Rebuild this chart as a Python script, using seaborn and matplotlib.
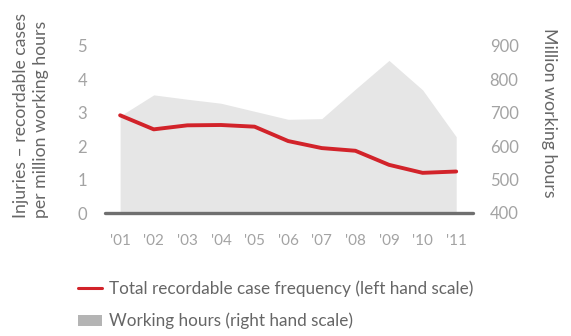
import matplotlib
matplotlib.use("Agg")
import matplotlib.pyplot as plt
import seaborn as sns
import pandas as pd
from matplotlib.lines import Line2D
from matplotlib.patches import Patch

# values
years = [2001, 2002, 2003, 2004, 2005, 2006, 2007, 2008, 2009, 2010, 2011]
year_labels = ["'01", "'02", "'03", "'04", "'05", "'06", "'07", "'08", "'09", "'10", "'11"]
trcf = [2.92, 2.50, 2.62, 2.63, 2.58, 2.15, 1.94, 1.86, 1.44, 1.20, 1.24]
hours = [690, 753, 740, 728, 704, 680, 682, 770, 856, 768, 628]

left_ticks = [0, 1, 2, 3, 4, 5]
right_ticks = [400, 500, 600, 700, 800, 900]

df = pd.DataFrame({"year": years, "trcf": trcf, "hours": hours})

sns.set_style("white")
plt.rcParams["font.family"] = ["Lato", "DejaVu Sans"]

red = "#d2232a"
area_grey = "#e6e6e6"
legend_grey = "#b4b4b4"
tick_grey = "#a3a3a3"
text_grey = "#666666"

fig = plt.figure(figsize=(5.71, 3.36), dpi=100)
ax = fig.add_axes([105 / 571, 1 - 213 / 336, 368 / 571, 174 / 336])
ax2 = ax.twinx()

# working hours area on the right scale
ax2.fill_between(df["year"], df["hours"], 400, color=area_grey, lw=0)
ax2.set_ylim(400, 400 + 5.2 * 100)

# case frequency line on the left scale
sns.lineplot(data=df, x="year", y="trcf", ax=ax, color=red, lw=2.8,
             solid_joinstyle="round", solid_capstyle="round")
ax.axhline(0, color="#6f6f6f", lw=2.4, clip_on=False, zorder=5)
ax.set_ylim(0, 5.2)
ax.set_xlim(2000.55, 2011.5)

ax.set_zorder(ax2.get_zorder() + 1)
ax.patch.set_visible(False)

ax.set_xticks(years)
ax.set_xticklabels(year_labels)
ax.set_yticks(left_ticks)
ax2.set_yticks(right_ticks)
ax.set_xlabel("")
ax.set_ylabel("")

for a in (ax, ax2):
    for s in a.spines.values():
        s.set_visible(False)
    a.tick_params(length=0, labelsize=12, labelcolor=tick_grey)
ax.tick_params(axis="y", pad=13)
ax.tick_params(axis="x", pad=15, labelsize=11)
ax2.tick_params(axis="y", pad=12)

fig.text(31 / 571, 1 - 218 / 336, "Injuries \u2013 recordable cases\nper million working hours",
         rotation=90, ha="center", va="bottom", multialignment="left",
         fontsize=12.7, color=text_grey, linespacing=1.35)
fig.text(549 / 571, 1 - 28 / 336, "Million working hours",
         rotation=270, ha="center", va="top", fontsize=12.8, color=text_grey)

handles = [Line2D([0], [0], color=red, lw=2.2),
           Patch(facecolor=legend_grey, edgecolor="none")]
labels = ["Total recordable case frequency (left hand scale)",
          "Working hours (right hand scale)"]
leg = fig.legend(handles, labels, loc="upper left", bbox_to_anchor=(78 / 571, 1 - 280 / 336),
                 frameon=False, fontsize=12.3, handlelength=1.4, handleheight=0.65,
                 handletextpad=0.4, labelspacing=0.95, borderpad=0, borderaxespad=0)
for t in leg.get_texts():
    t.set_color(text_grey)

fig.savefig("out.png", dpi=100)
